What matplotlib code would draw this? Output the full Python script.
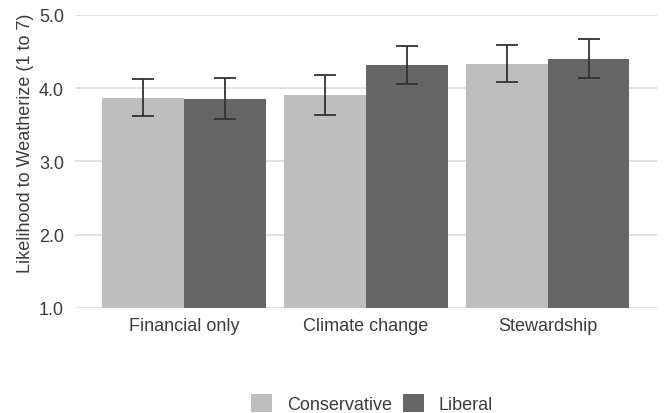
import numpy as np
import matplotlib.pyplot as plt
from matplotlib.patches import Patch

plt.rcParams['font.family'] = ['Liberation Sans', 'DejaVu Sans']

frames = ['Financial only', 'Climate change', 'Stewardship']
groups = ['Conservative', 'Liberal']
colors = ['#bebebe', '#666666']

means = {
    'Conservative': [3.87, 3.905, 4.334],
    'Liberal': [3.858, 4.316, 4.40],
}
ci = {
    'Conservative': [0.25, 0.278, 0.255],
    'Liberal': [0.276, 0.255, 0.267],
}

fig = plt.figure(figsize=(6.64, 4.14), dpi=100)
ax = fig.add_axes([75 / 664, 1 - 308.7 / 414, 581.7 / 664, 292.7 / 414])

x = np.arange(len(frames))
width = 0.45
baseline = 1.0
for i, g in enumerate(groups):
    pos = x + (i - 0.5) * width
    vals = np.array(means[g])
    ax.bar(pos, vals - baseline, bottom=baseline, width=width,
           color=colors[i], linewidth=0, zorder=2)
    ax.errorbar(pos, vals, yerr=ci[g], fmt='none', ecolor='#333333',
                elinewidth=1.3, capsize=7.8, capthick=1.3, zorder=3)

ax.set_xlim(-0.6, 2.6)
ax.set_ylim(1, 5)
ax.set_yticks([1, 2, 3, 4, 5])
ax.set_yticklabels(['1.0', '2.0', '3.0', '4.0', '5.0'])
ax.set_xticks(x)
ax.set_xticklabels(frames)
ax.yaxis.grid(True, color='#d9d9d9', linewidth=1.1, zorder=0)
ax.set_axisbelow(True)
for s in ax.spines.values():
    s.set_visible(False)
ax.tick_params(length=0, labelsize=13, labelcolor='#3c3c3c', pad=8)
ax.tick_params(axis='x', pad=7)
ax.set_ylabel('Likelihood to Weatherize (1 to 7)', fontsize=13,
              color='#3c3c3c')
ax.yaxis.set_label_coords(-0.071, 0.566)

handles = [Patch(facecolor=c, edgecolor='none', label=g) for g, c in zip(groups, colors)]
fig.legend(handles=handles, loc='lower center', bbox_to_anchor=(0.56, -0.04),
           ncol=2, frameon=False, fontsize=13, labelcolor='#3c3c3c',
           handlelength=1.2, handleheight=1.2, handletextpad=0.8,
           columnspacing=0.6)

fig.savefig('out.png', dpi=100)
